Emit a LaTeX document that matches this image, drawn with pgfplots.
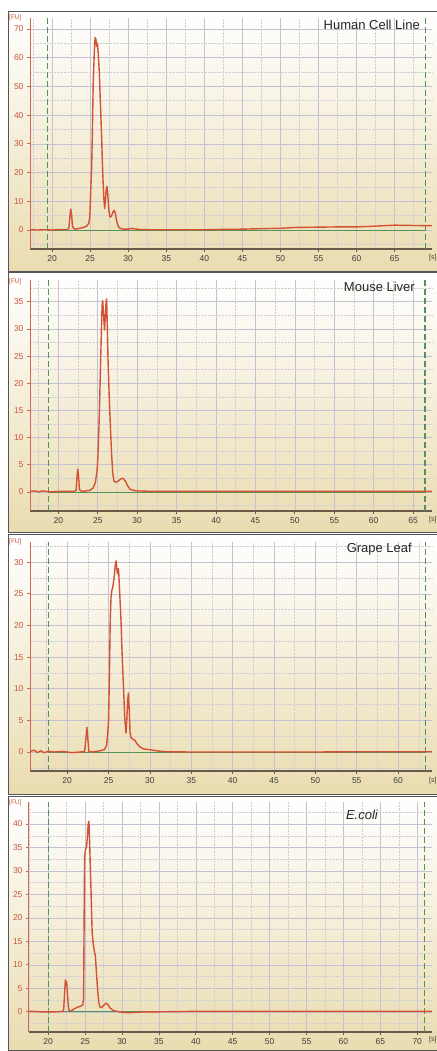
\documentclass[border=0pt]{standalone}
\usepackage{fontspec}
\setmainfont{Liberation Sans}
\usepackage{pgfplots}
\pgfplotsset{compat=1.18}

\definecolor{tracec}{RGB}{212,82,52}
\definecolor{markc}{RGB}{85,145,90}
\definecolor{gridmaj}{RGB}{196,194,210}
\definecolor{gridmin}{RGB}{208,206,214}
\definecolor{xaxis}{RGB}{105,90,75}
\definecolor{yaxis}{RGB}{205,105,85}
\definecolor{ylab}{RGB}{200,85,60}
\definecolor{xlab}{RGB}{60,60,60}
\definecolor{tanbg}{RGB}{234,220,176}
\definecolor{creambg}{RGB}{247,241,220}
\definecolor{framec}{RGB}{85,85,85}

\pgfplotsset{
  bio/.style={
    scale only axis, width=402pt, height=231pt, anchor=south west,
    axis x line*=bottom, axis y line*=left, tick pos=left,
    x axis line style={draw=xaxis, line width=1.3pt, -},
    y axis line style={draw=yaxis, line width=1pt, -},
    tick align=outside, major tick length=3pt, minor tick length=0pt,
    xtick distance=5, minor x tick num=1, minor y tick num=1,
    grid=both,
    major grid style={gridmaj, line width=0.6pt},
    minor grid style={gridmin, densely dotted, line width=0.5pt},
    tick label style={font=\fontsize{8.5}{9}\selectfont},
    xticklabel style={text=xlab}, yticklabel style={text=ylab},
    x tick style={xaxis, line width=0.8pt}, y tick style={yaxis, line width=0.8pt},
    /pgf/number format/assume math mode=true,
  },
  trace/.style={draw=tracec, line width=1.4pt, no marks, line join=round},
  marker/.style={draw=markc, dash pattern=on 6pt off 3pt, line width=1.2pt, no marks},
  base/.style={draw=markc, line width=0.8pt, no marks},
}

\begin{document}
\begin{tikzpicture}[x=1pt, y=1pt]
\path[use as bounding box] (0,0) rectangle (436,1051);
\fill[white] (0,0) rectangle (436,1051);

% panel backgrounds
\foreach \lo/\hi in {779/1039, 518/778, 256/516, 0/254}{
  \shade[top color=white, middle color=creambg, bottom color=tanbg] (8,\lo) rectangle (437,\hi);
  \draw[framec, line width=1pt] (8,\lo) rectangle (437,\hi);
}

% ---- Human Cell Line
\begin{axis}[bio, at={(30pt,802pt)}, xmin=17.1, xmax=69.9, ymin=-6.6, ymax=73.8, ytick distance=10]
\addplot[base] coordinates {(19.4,0) (69.0,0)};
\addplot[marker] coordinates {(19.4,-6.6) (19.4,73.8)};
\addplot[marker] coordinates {(69.0,-6.6) (69.0,73.8)};
\addplot[trace] coordinates {
(17.1,0.1)(18,0)(19,0.1)(20,0)(21,0.2)(22,0.2)(22.2,0.5)(22.35,5)(22.45,7.3)(22.55,5.5)(22.7,1)
(23,0.3)(23.5,0.5)(24,0.8)(24.5,1.3)(24.8,2.2)(24.95,4.5)(25.1,15)(25.2,22)(25.3,35)(25.4,51)
(25.55,62)(25.65,67)(25.75,66.5)(25.85,64)(25.95,65)(26.05,62)(26.2,55)(26.35,44)(26.5,33)
(26.65,20)(26.8,11)(26.9,7.5)(27.0,10)(27.1,14)(27.2,15.2)(27.3,13)(27.45,7)(27.6,4.5)(27.8,4.8)
(28.0,6.3)(28.15,6.8)(28.3,6)(28.5,3)(28.7,1.2)(29,0.5)(29.5,0.3)(30,0.3)(30.5,0.6)(30.8,0.4)
(31.5,0.2)(33,0.1)(35,0.1)(38,0.1)(40,0.1)(42,0.2)(45,0.3)(48,0.5)(50,0.6)(52,0.9)(55,1.0)
(58,1.1)(60,1.1)(62,1.3)(65,1.7)(67,1.6)(69.9,1.5)};
\end{axis}

% ---- Mouse Liver
\begin{axis}[bio, at={(30pt,540pt)}, xmin=16.4, xmax=67.4, ymin=-3.5, ymax=39, ytick distance=5]
\addplot[base] coordinates {(18.7,0) (66.5,0)};
\addplot[marker] coordinates {(18.7,-3.5) (18.7,39)};
\addplot[marker] coordinates {(66.5,-3.5) (66.5,39)};
\addplot[trace] coordinates {
(16.4,0.1)(17,0.2)(17.5,0.0)(18,0.2)(18.5,0.1)(19,0)(20,0.1)(21,0.1)(22,0.1)(22.25,0.3)(22.38,3)
(22.46,4.2)(22.55,3)(22.68,0.4)(23,0.1)(23.5,0.2)(24,0.3)(24.4,0.7)(24.7,1.8)(24.9,3.8)(25.0,6)
(25.15,12)(25.26,18)(25.37,24.5)(25.47,30.4)(25.55,34.5)(25.62,35.2)(25.7,33.5)(25.85,29.8)
(25.95,32)(26.05,35)(26.12,35.5)(26.2,31)(26.3,24.3)(26.45,17.5)(26.6,12)(26.75,7)(26.9,3.4)
(27.05,2.0)(27.3,1.8)(27.6,2.0)(27.9,2.4)(28.2,2.5)(28.5,2.0)(28.8,1.1)(29.1,0.5)(29.5,0.3)
(30,0.2)(32,0.1)(35,0.1)(40,0.1)(45,0.1)(50,0.1)(55,0.1)(60,0.1)(65,0.1)(67.4,0.1)};
\end{axis}

% ---- Grape Leaf
\begin{axis}[bio, at={(30pt,280pt)}, height=229pt, xmin=15.5, xmax=64.1, ymin=-3.0, ymax=33.2, ytick distance=5]
\addplot[base] coordinates {(17.7,0) (63.3,0)};
\addplot[marker] coordinates {(17.7,-3.0) (17.7,33.2)};
\addplot[marker] coordinates {(63.3,-3.0) (63.3,33.2)};
\addplot[trace] coordinates {
(15.5,0.1)(16,0.3)(16.4,-0.1)(16.8,0.2)(17.2,-0.1)(17.7,0.1)(18.5,0)(19.5,0.1)(20.5,-0.1)(21.5,0)
(22.1,0.1)(22.25,2)(22.38,3.9)(22.5,2)(22.62,0.1)(23,0)(23.5,0.1)(24,0.2)(24.5,0.4)(24.75,1)
(24.9,3)(25.0,5)(25.1,12)(25.2,20.8)(25.3,24.5)(25.4,25.6)(25.5,26)(25.6,26.9)(25.7,28)(25.8,29.5)
(25.9,30.2)(26.0,29)(26.07,28.2)(26.15,29)(26.22,28.6)(26.35,25)(26.5,20.8)(26.65,15)(26.8,10.3)
(26.95,5.5)(27.1,3.0)(27.2,5)(27.3,8)(27.4,9.3)(27.5,6.5)(27.6,3)(27.75,2.2)(28.0,2.0)(28.2,1.8)
(28.5,1.2)(28.8,0.8)(29.2,0.5)(29.8,0.4)(30.3,0.3)(31,0.15)(32,0.05)(35,0)(40,0)(45,0)(50,0)
(55,0.05)(60,0.05)(64.1,0.05)};
\end{axis}

% ---- E.coli
\begin{axis}[bio, at={(29pt,19pt)}, width=403pt, height=230pt, xmin=17.4, xmax=72, ymin=-4.3, ymax=44.7, ytick distance=5]
\addplot[base] coordinates {(20.0,0) (71.0,0)};
\addplot[marker] coordinates {(20.0,-4.3) (20.0,44.7)};
\addplot[marker] coordinates {(71.0,-4.3) (71.0,44.7)};
\addplot[trace] coordinates {
(17.4,0.1)(18,0.1)(19,0)(20,0)(21,0)(22,0.1)(22.1,0.5)(22.22,4)(22.33,6.8)(22.42,5.5)(22.5,6.4)
(22.6,4)(22.75,0.8)(22.9,0.1)(23.2,0.3)(23.6,0.7)(24,1.0)(24.4,1.2)(24.7,1.5)(24.8,3)(24.87,20)
(24.93,33)(25.05,34.5)(25.2,35.2)(25.3,37)(25.42,40)(25.52,40.6)(25.62,36)(25.72,30)(25.8,26)
(25.88,21)(25.96,16.8)(26.1,14.5)(26.25,13)(26.4,11.8)(26.55,8)(26.7,4.7)(26.85,2)(27.05,0.9)
(27.3,1.0)(27.6,1.5)(27.85,1.85)(28.1,1.5)(28.4,0.8)(28.8,0.3)(29.3,0.1)(30,-0.1)(31,-0.2)
(32,-0.1)(33,0)(35,0)(40,0.1)(45,0.1)(50,0.1)(55,0.1)(60,0.1)(65,0.1)(70,0.1)(72,0.1)};
\end{axis}

% titles and unit labels
\begin{scope}[font=\fontsize{13}{15}\selectfont, text=black!85]
\node[anchor=east, inner sep=0pt] at (420,1026) {Human Cell Line};
\node[anchor=east, inner sep=0pt] at (415,764) {Mouse Liver};
\node[anchor=east, inner sep=0pt] at (412,502) {Grape Leaf};
\node[anchor=east, inner sep=0pt] at (378,236) {\itshape E.coli};
\end{scope}
\begin{scope}[font=\fontsize{6.5}{7}\selectfont, text=ylab]
\foreach \yy in {1033,769,509,248}{\node[anchor=west, inner sep=0pt] at (9,\yy) {[FU]};}
\end{scope}
\begin{scope}[font=\fontsize{7}{8}\selectfont, text=xlab]
\foreach \yy in {793,531,270,11}{\node[anchor=west, inner sep=0pt] at (429,\yy) {[s]};}
\end{scope}
\end{tikzpicture}
\end{document}
